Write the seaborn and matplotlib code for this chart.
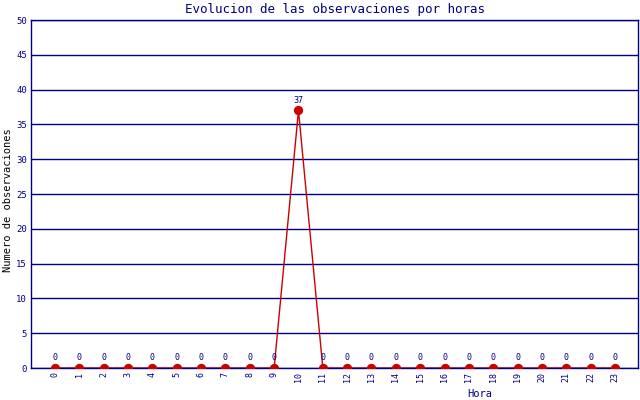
import matplotlib
matplotlib.use('Agg')
import matplotlib.pyplot as plt
import seaborn as sns
import pandas as pd

horas = list(range(24))
observaciones = [0, 0, 0, 0, 0, 0, 0, 0, 0, 0, 37, 0,
                 0, 0, 0, 0, 0, 0, 0, 0, 0, 0, 0, 0]
y_ticks = [0, 5, 10, 15, 20, 25, 30, 35, 40, 45, 50]

navy = '#000080'
red = '#cc0000'

sns.set_style('white')
plt.rcParams['font.family'] = ['DejaVu Sans Mono']

df = pd.DataFrame({'Hora': horas, 'Obs': observaciones})

fig = plt.figure(figsize=(6.4, 4.0), dpi=100)
ax = fig.add_axes([31 / 640, 32 / 400, 607 / 640, 348 / 400])

for t in y_ticks:
    ax.axhline(t, color=navy, lw=1.0, zorder=1)

sns.lineplot(data=df, x='Hora', y='Obs', color=red, lw=1.0, ax=ax, zorder=2)
sns.scatterplot(data=df, x='Hora', y='Obs', color=red, s=45, edgecolor=red,
                linewidth=0, ax=ax, zorder=3)

for h, v in zip(horas, observaciones):
    ax.text(h, v + 0.8, str(v), ha='center', va='bottom', fontsize=6, color=navy)

ax.set_xlim(-0.99, 23.95)
ax.set_ylim(0, 50)
ax.set_xticks(horas)
ax.set_xticklabels([str(h) for h in horas], rotation=90, fontsize=6, color=navy)
ax.set_yticks(y_ticks)
ax.set_yticklabels([str(t) for t in y_ticks], fontsize=6.5, color=navy)
ax.tick_params(length=0, pad=3)

for s in ax.spines.values():
    s.set_color(navy)
    s.set_linewidth(1.0)

ax.set_xlabel('')
ax.set_ylabel('')
fig.text(8 / 640, 0.5 - 0.08 / 2 + 0.04, 'Numero de observaciones', rotation=90,
         ha='center', va='center', fontsize=7.5, color='#000000')
fig.text(480 / 640, 1 - 394 / 400, 'Hora', ha='center', va='center',
         fontsize=7.5, color=navy)
fig.text(335 / 640, 1 - 9 / 400, 'Evolucion de las observaciones por horas',
         ha='center', va='center', fontsize=9, color=navy)

plt.savefig('out.png', dpi=100, facecolor='white')
plt.close(fig)
